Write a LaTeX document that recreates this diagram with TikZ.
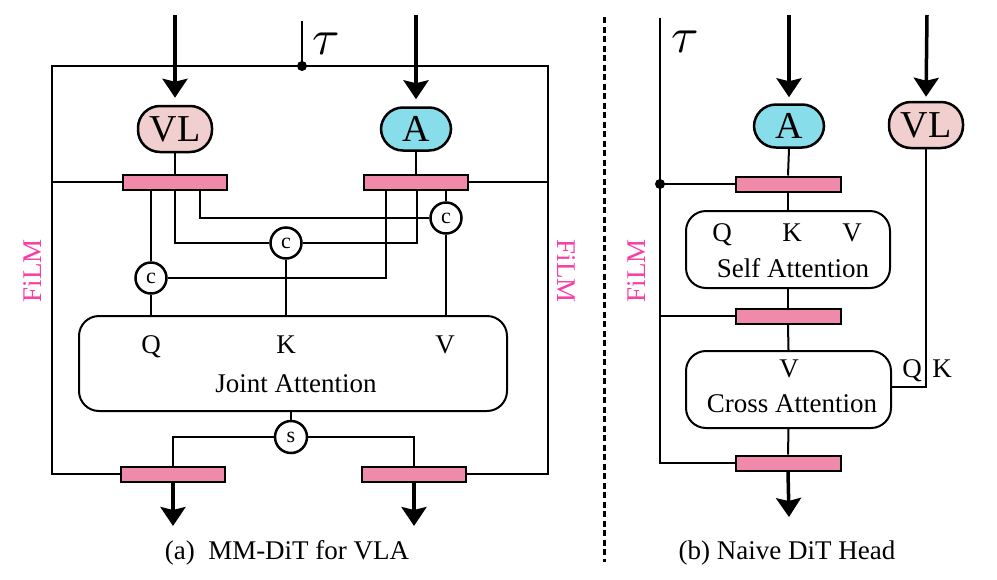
\documentclass[tikz,border=0pt]{standalone}
\usepackage{fontspec}
\setmainfont{Liberation Serif}
\usetikzlibrary{arrows.meta,calc}
\definecolor{barpink}{RGB}{240,138,170}
\definecolor{vlpink}{RGB}{242,207,207}
\definecolor{acyan}{RGB}{136,221,235}
\definecolor{filmpink}{RGB}{250,60,165}
\tikzset{
  wire/.style={line width=2pt},
  flow/.style={line width=3.5pt,-{Stealth[length=19pt,width=25pt,inset=3pt]}},
  bar/.style={draw,line width=2pt,fill=barpink,minimum width=104pt,minimum height=15pt,inner sep=0pt},
  token/.style={draw,line width=2.5pt,rounded corners=22pt,minimum width=74pt,minimum height=46pt,inner sep=0pt,font=\fontsize{38}{40}\selectfont},
  opcirc/.style={draw,circle,line width=2.5pt,minimum size=31pt,inner sep=0pt,fill=white,font=\fontsize{22}{24}\selectfont},
  attn/.style={draw,line width=2pt,rounded corners=20pt,inner sep=0pt},
  lbl/.style={font=\fontsize{27}{30}\selectfont,inner sep=0pt,anchor=base},
  film/.style={font=\fontsize{27}{30}\selectfont,inner sep=0pt,text=filmpink},
  dotnode/.style={circle,fill=black,minimum size=10pt,inner sep=0pt},
  taulbl/.style={inner sep=0pt},
}
\newcommand{\bigtau}{\scalebox{5}{$\tau$}}
\begin{document}
\begin{tikzpicture}[x=1pt,y=-1pt]
\useasboundingbox (0,0) rectangle (997,579);

% ================= (a) MM-DiT for VLA =================
\node[token,fill=vlpink] (vlA) at (175,129) {VL};
\node[token,fill=acyan,minimum width=70pt,minimum height=43pt] (aA) at (416,129) {A};
\coordinate (vlAin) at (175,15);
\coordinate (aAin) at (416,15);
\draw[flow,shorten >=7pt] (vlAin) -- (vlA.north);
\draw[flow,shorten >=7pt] (aAin) -- (aA.north);

\node[bar] (tl) at (175,182) {};
\node[bar] (tr) at (416,182) {};
\node[bar] (bl) at (173,474) {};
\node[bar] (br) at (414,474) {};
\draw[wire] (vlA.south) -- (tl.north);
\draw[wire] (aA.south) -- (tr.north);

% timestep conditioning frame
\coordinate (tauTop) at (302,21);
\coordinate (fTL) at (52,66);
\coordinate (fTR) at (548,66);
\coordinate (fBL) at (52,474);
\coordinate (fBR) at (548,474);
\node[dotnode] (tauJ) at (302,66) {};
\node[taulbl] (tauA) at (326,44) {\bigtau};
\draw[wire] (tauTop) -- (tauJ.center);
\draw[wire] (bl.west) -- (fBL) -- (fTL) -- (fTR) -- (fBR) -- (br.east);
\draw[wire] (tl.west) -- (tl.west -| fTL);
\draw[wire] (tr.east) -- (tr.east -| fTR);

% concatenation nodes
\node[opcirc] (cq) at (151,278) {c};
\node[opcirc] (ck) at (286,243) {c};
\node[opcirc] (cv) at (446,218) {c};

\node[attn,minimum width=428pt,minimum height=95pt] (joint) at (293,363.5) {};
\node[lbl] at (151,353) {Q};
\node[lbl] at (286,353) {K};
\node[lbl] at (445,353) {V};
\node[lbl] at (296,392) {Joint Attention};

\draw[wire] (tl.south -| cq) -- (cq.north);
\draw[wire] (tl.south) |- (ck.west);
\draw[wire] ([xshift=25pt]tl.south) |- (cv.west);
\draw[wire] ([xshift=-30pt]tr.south) |- (cq.east);
\draw[wire] ([xshift=1pt]tr.south) |- (ck.east);
\draw[wire] (tr.south -| cv) -- (cv.north);
\draw[wire] (cq.south) -- (cq.south |- joint.north);
\draw[wire] (ck.south) -- (ck.south |- joint.north);
\draw[wire] (cv.south) -- (cv.south |- joint.north);

% split node
\node[opcirc,minimum size=32pt] (sp) at (291,437) {s};
\draw[wire] (sp.north |- joint.south) -- (sp.north);
\draw[wire] (sp.west) -| (bl.north);
\draw[wire] (sp.east) -| (br.north);

\coordinate (outL) at (173,526);
\coordinate (outR) at (414,526);
\draw[flow] (bl.south) -- (outL);
\draw[flow] (br.south) -- (outR);

\node[film,rotate=90] (filmL) at (33,271) {FiLM};
\node[film,rotate=-90] (filmR) at (566,271) {FiLM};
\node[lbl] (capA) at (287,559) {(a)\ \ MM-DiT for VLA};

% ================= divider =================
\coordinate (divT) at (604,17);
\coordinate (divB) at (604,562);
\draw[line width=3pt,dash pattern=on 6pt off 3.5pt] (divT) -- (divB);

% ================= (b) Naive DiT Head =================
\node[token,fill=acyan,minimum width=70pt,minimum height=43pt] (aB) at (789,126) {A};
\node[token,fill=vlpink] (vlB) at (926,125) {VL};
\coordinate (aBin) at (789,15);
\coordinate (vlBin) at (927,15);
\draw[flow,shorten >=6pt] (aBin) -- (aB.north);
\draw[flow,shorten >=4pt] (vlBin) -- (vlB.north);

\node[bar,minimum width=105pt] (b1) at (788,184) {};
\node[bar,minimum width=105pt] (b2) at (788,316) {};
\node[bar,minimum width=105pt] (b3) at (788,463) {};

\node[attn,minimum width=204pt,minimum height=77pt] (selfat) at (788,249.5) {};
\node[lbl] at (722,241) {Q};
\node[lbl] at (792,241) {K};
\node[lbl] at (852,241) {V};
\node[lbl] at (793,277) {Self Attention};

\node[attn,minimum width=205pt,minimum height=77pt] (crossat) at (788.5,389.5) {};
\node[lbl] at (789,377) {V};
\node[lbl] at (792,412) {Cross Attention};
\node[lbl] at (912,377) {Q};
\node[lbl] at (942,377) {K};

\coordinate (tauBtop) at (660,18);
\node[taulbl] (tauB) at (685,42) {\bigtau};
\node[dotnode] (tauBd) at (660,184) {};
\draw[wire] (tauBtop) |- (b3.west);
\draw[wire] (tauBd.center) -- (b1.west);
\draw[wire] (b2.west -| tauBtop) -- (b2.west);

\draw[wire] (aB.south) -- (b1.north);
\draw[wire] (b1.south) -- (selfat.north);
\draw[wire] (selfat.south) -- (b2.north);
\draw[wire] (b2.south) -- (crossat.north);
\draw[wire] (crossat.south) -- (b3.north);
\draw[wire] (vlB.south) |- ([yshift=2.5pt]crossat.east);
\coordinate (outB) at (789,517);
\draw[flow] (b3.south) -- (outB);

\node[film,rotate=90] (filmB) at (637,271) {FiLM};
\node[lbl] (capB) at (787,559) {(b) Naive DiT Head};
\end{tikzpicture}
\end{document}
